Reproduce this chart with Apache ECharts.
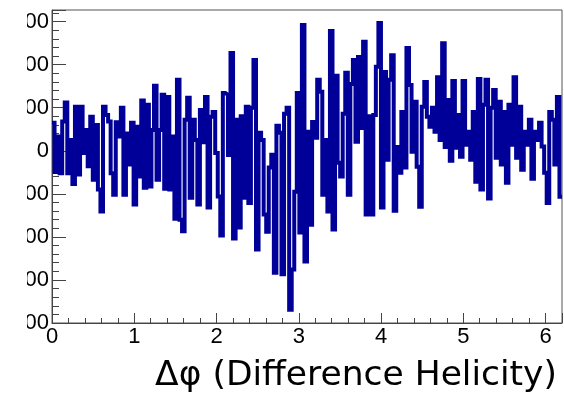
<!DOCTYPE html>
<html>
<head>
<meta charset="utf-8">
<script src="https://cdn.jsdelivr.net/npm/echarts@6/dist/echarts.min.js"></script>
<style>
  html, body { margin: 0; padding: 0; background: #ffffff; }
  #clip { position: absolute; left: 27px; top: 0; width: 537px; height: 397px; overflow: hidden; }
  #chart { position: absolute; left: -27px; top: 0; width: 564px; height: 397px; }
</style>
</head>
<body>
<div id="clip"><div id="chart"></div></div>
<script>
// Histogram definition
const xMin = 0;
const xMax = 6.2;
const nBins = 200;
const xTitle = 'Δφ (Difference Helicity)';
const yMin = -400;
const yMax = 327;

// Bin contents (left to right)
const binValues = [
  65, -49, 33, -52, 68, 112, -52, 25, -77, 102, -55, 102, -5, 48, -36, 79, -67, 60, -90, -141, 102, 83, 68, -52, -102,
  66, 33, 100, -102, 40, -32, 65, -125, 56, -60, 117, -86, 107, -83, 48, 151, -67, 48, 130, -88, 125, -90, 33, -158, 165,
  -160, -187, 72, 123, -109, 72, 25, -125, 95, 20, 125, -132, 79, 90, -5, -106, -197, 134, 130, -10, 227, -204, 72, -178, 80,
  -109, 102, -121, 100, 211, -229, 42, 25, -148, -188, -39, -9, -283, 58, 42, -287, 86, 100, -369, -276, -95, 134, -190, 292, -257,
  44, -172, 67, 30, 165, 137, -102, 25, -141, 278, -183, 174, -28, -60, 86, 181, -102, 155, 211, 21, 218, 53, 253, -148, 80,
  -148, 83, 195, 297, -132, 183, -21, 165, 222, -139, 9, -51, 90, -39, 239, 153, -2, 114, -37, -130, 102, 160, 79, 56, 100,
  44, 171, 25, 250, 9, 118, -23, 162, 7, 83, -14, 162, 14, 44, -21, 90, -72, 167, -90, 107, 165, -111, 100, 141, -16,
  114, -32, 90, -74, 107, 14, 171, -16, 102, -44, 44, 14, 72, -65, 44, 25, 65, 10, -51, -121, 90, 72, -32, 125, -107
];

// Build step points at bin edges
const binWidth = (xMax - xMin) / nBins;
const stepData = binValues.map((v, i) => [xMin + i * binWidth, v]);
stepData.push([xMax, binValues[binValues.length - 1]]);

const chart = echarts.init(document.getElementById('chart'), null, { renderer: 'canvas' });
const axisFont = 'Liberation Sans, Arial, Helvetica, sans-serif';
chart.setOption({
  animation: false,
  backgroundColor: '#ffffff',
  grid: {
    left: 52, right: 2, top: 10, bottom: 74,
    show: true, borderColor: '#555555', borderWidth: 1, backgroundColor: 'transparent'
  },
  xAxis: {
    type: 'value',
    min: xMin, max: xMax, interval: 1,
    name: xTitle,
    nameLocation: 'end',
    nameGap: -5,
    nameTextStyle: {
      fontFamily: 'DejaVu Sans, Liberation Sans, sans-serif', fontSize: 34.5, color: '#000000',
      align: 'right', verticalAlign: 'top', padding: [36, 0, 0, 0]
    },
    axisLine: { show: true, onZero: false, lineStyle: { color: '#444444', width: 1 } },
    axisTick: { show: true, inside: true, length: 10, lineStyle: { color: '#444444' } },
    minorTick: { show: true, splitNumber: 5, length: 5, lineStyle: { color: '#444444' } },
    axisLabel: { show: true, fontFamily: axisFont, fontSize: 22, color: '#000000', margin: 3, showMaxLabel: false },
    splitLine: { show: false }
  },
  yAxis: {
    type: 'value',
    min: yMin, max: yMax, interval: 100,
    axisLine: { show: true, onZero: false, lineStyle: { color: '#444444', width: 1 } },
    axisTick: { show: true, inside: true, length: 14, lineStyle: { color: '#444444' } },
    minorTick: { show: true, splitNumber: 5, length: 7, lineStyle: { color: '#444444' } },
    axisLabel: { show: true, fontFamily: axisFont, fontSize: 22, color: '#000000', margin: 3, showMaxLabel: false },
    splitLine: { show: false }
  },
  series: [{
    type: 'line',
    data: stepData,
    step: 'end',
    symbol: 'none',
    lineStyle: { color: '#000099', width: 4, join: 'miter' },
    itemStyle: { color: '#000099' },
    clip: true
  }]
});
</script>
</body>
</html>
